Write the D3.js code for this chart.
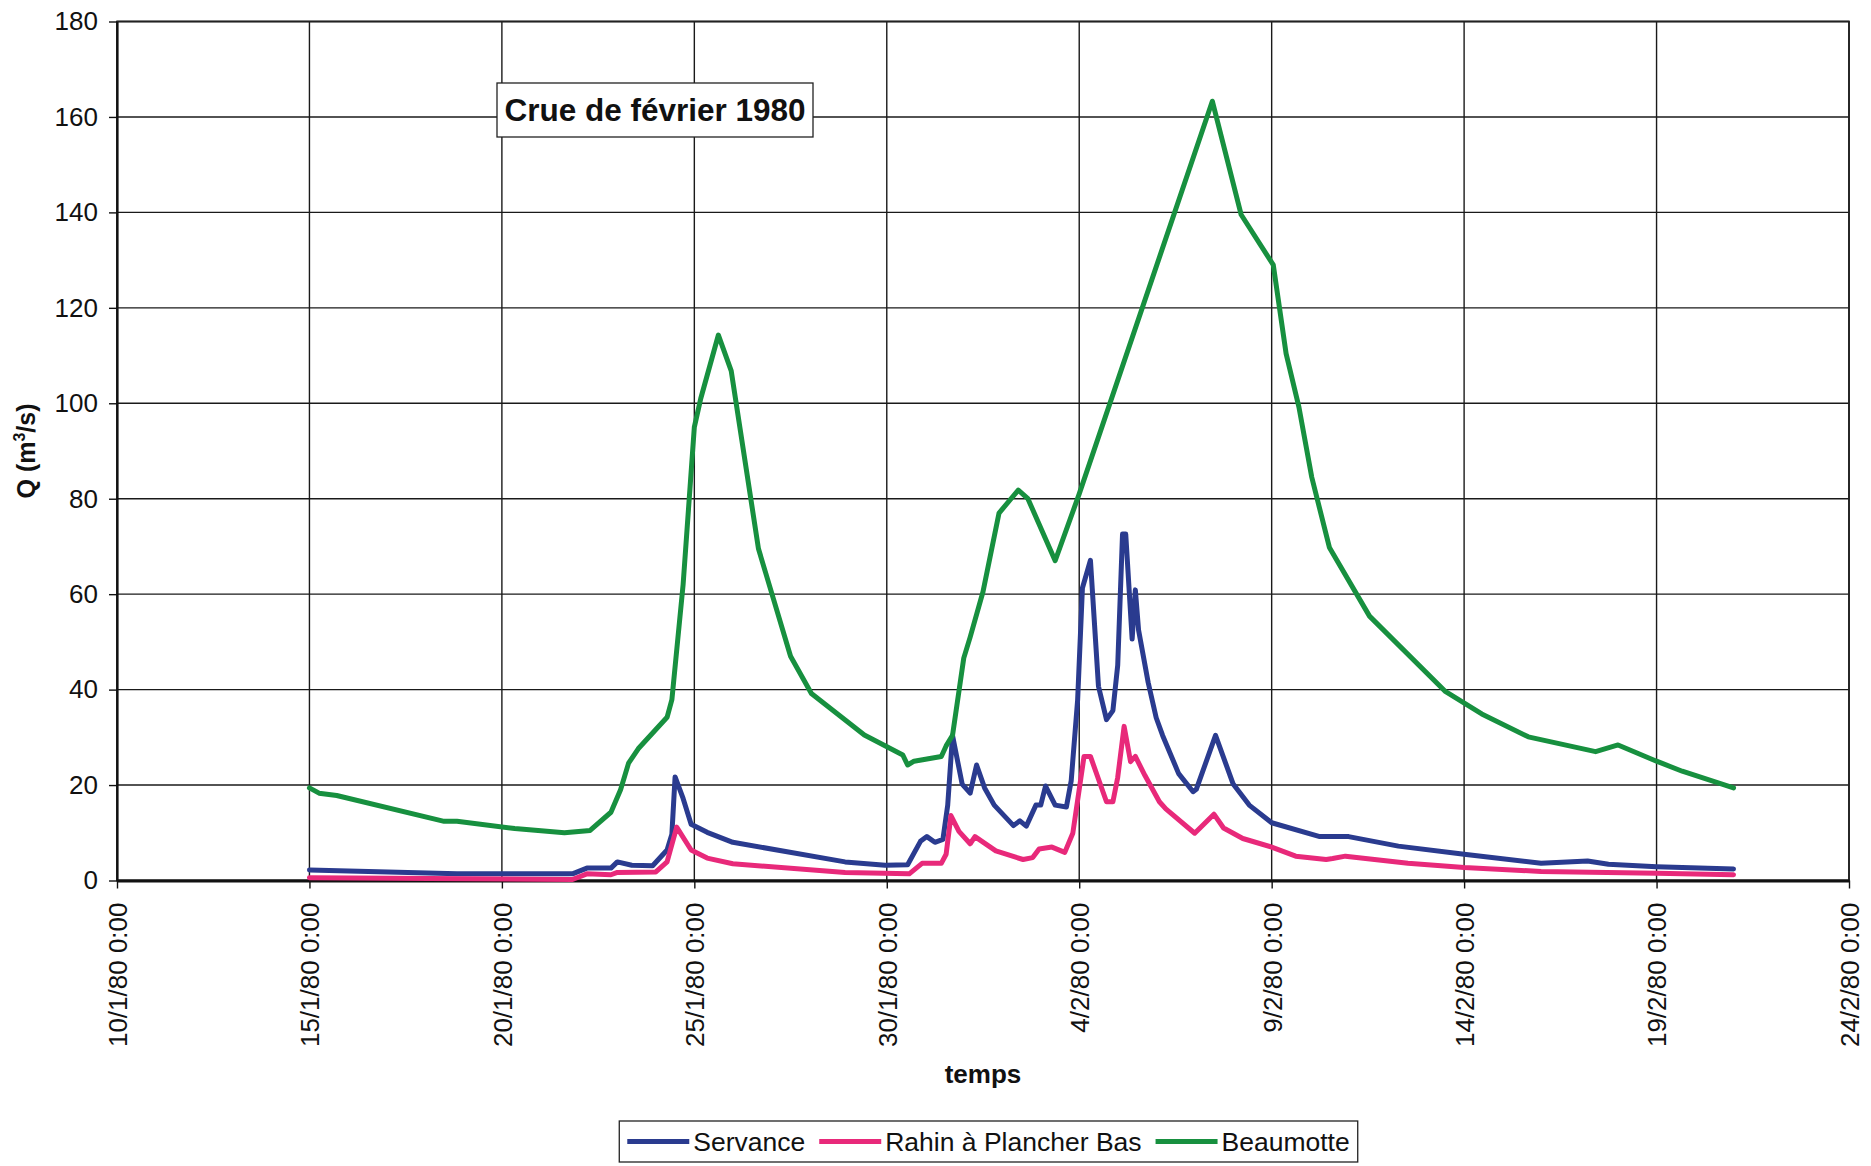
<!DOCTYPE html>
<html>
<head>
<meta charset="utf-8">
<script src="https://cdn.jsdelivr.net/npm/d3@7/dist/d3.min.js"></script>
<style>
  body { margin: 0; background: #fff; }
  svg { display: block; font-family: "Liberation Sans", Arial, sans-serif; }
</style>
</head>
<body>
<svg id="chart" width="1871" height="1166"></svg>
<script>
// ---- data ----
const xTickDates = ["1980-01-10 00:00", "1980-01-15 00:00", "1980-01-20 00:00", "1980-01-25 00:00",
  "1980-01-30 00:00", "1980-02-04 00:00", "1980-02-09 00:00", "1980-02-14 00:00",
  "1980-02-19 00:00", "1980-02-24 00:00"];
const yTicks = [0, 20, 40, 60, 80, 100, 120, 140, 160, 180];

const seriesNames = ["Servance", "Rahin à Plancher Bas", "Beaumotte"];
const seriesColors = ["#2a3b8f", "#e8297a", "#17903f"];

const servanceTimes = ["1980-01-15 00:00", "1980-01-18 20:00", "1980-01-21 20:00", "1980-01-22 05:00",
  "1980-01-22 20:00", "1980-01-23 00:00", "1980-01-23 09:00", "1980-01-23 22:00", "1980-01-24 07:00",
  "1980-01-24 10:00", "1980-01-24 12:00", "1980-01-24 17:00", "1980-01-24 22:00", "1980-01-25 08:00",
  "1980-01-26 00:00", "1980-01-28 22:00", "1980-01-29 23:00", "1980-01-30 13:00", "1980-01-30 21:00",
  "1980-01-31 01:00", "1980-01-31 06:00", "1980-01-31 11:00", "1980-01-31 14:00", "1980-01-31 17:00",
  "1980-01-31 23:00", "1980-02-01 04:00", "1980-02-01 08:00", "1980-02-01 13:00", "1980-02-01 19:00",
  "1980-02-02 07:00", "1980-02-02 11:00", "1980-02-02 15:00", "1980-02-02 21:00", "1980-02-03 00:00",
  "1980-02-03 03:00", "1980-02-03 09:00", "1980-02-03 16:00", "1980-02-03 19:00", "1980-02-03 23:00",
  "1980-02-04 02:00", "1980-02-04 07:00", "1980-02-04 12:00", "1980-02-04 17:00", "1980-02-04 21:00",
  "1980-02-05 00:00", "1980-02-05 03:00", "1980-02-05 05:00", "1980-02-05 09:00", "1980-02-05 11:00",
  "1980-02-05 13:00", "1980-02-05 19:00", "1980-02-06 00:00", "1980-02-06 04:00", "1980-02-06 14:00",
  "1980-02-06 23:00", "1980-02-07 01:00", "1980-02-07 13:00", "1980-02-08 00:00", "1980-02-08 10:00",
  "1980-02-09 00:00", "1980-02-10 06:00", "1980-02-11 00:00", "1980-02-12 07:00", "1980-02-14 00:00",
  "1980-02-16 00:00", "1980-02-17 05:00", "1980-02-17 18:00", "1980-02-19 00:00", "1980-02-21 00:00"];
const servanceQ = [2.2, 1.4, 1.4, 2.6,
  2.6, 3.9, 3.2, 3.1, 6.4,
  9.7, 21.7, 17.2, 11.8, 10.1,
  8.0, 3.9, 3.2, 3.3, 8.2,
  9.2, 8.0, 8.6, 15.8, 30.4,
  20.2, 18.3, 24.2, 19.4, 15.8,
  11.5, 12.5, 11.4, 15.8, 15.8,
  19.8, 15.8, 15.4, 20.9, 37.8,
  61.3, 67.1, 40.7, 33.7, 35.6,
  45.1, 72.6, 72.6, 50.6, 60.9,
  52.5, 41.5, 34.1, 30.4, 22.4,
  18.6, 19.1, 30.4, 20.2, 15.8,
  12.1, 9.2, 9.2, 7.2, 5.5,
  3.6, 4.1, 3.4, 2.9, 2.4];

const rahinTimes = ["1980-01-15 00:00", "1980-01-21 20:00", "1980-01-22 05:00", "1980-01-22 20:00",
  "1980-01-23 00:00", "1980-01-24 00:00", "1980-01-24 07:00", "1980-01-24 13:00", "1980-01-24 22:00",
  "1980-01-25 08:00", "1980-01-26 00:00", "1980-01-28 22:00", "1980-01-30 14:00", "1980-01-30 22:00",
  "1980-01-31 10:00", "1980-01-31 13:00", "1980-01-31 16:00", "1980-01-31 21:00", "1980-02-01 04:00",
  "1980-02-01 07:00", "1980-02-01 20:00", "1980-02-02 13:00", "1980-02-02 19:00", "1980-02-02 23:00",
  "1980-02-03 07:00", "1980-02-03 15:00", "1980-02-03 20:00", "1980-02-04 03:00", "1980-02-04 07:00",
  "1980-02-04 17:00", "1980-02-04 21:00", "1980-02-05 00:00", "1980-02-05 04:00", "1980-02-05 08:00",
  "1980-02-05 11:00", "1980-02-05 17:00", "1980-02-06 02:00", "1980-02-06 06:00", "1980-02-07 00:00",
  "1980-02-07 12:00", "1980-02-07 18:00", "1980-02-08 06:00", "1980-02-09 00:00", "1980-02-09 15:00",
  "1980-02-10 10:00", "1980-02-10 14:00", "1980-02-10 22:00", "1980-02-12 13:00", "1980-02-14 00:00",
  "1980-02-16 00:00", "1980-02-19 00:00", "1980-02-21 00:00"];
const rahinQ = [0.6, 0.2, 1.4, 1.2,
  1.7, 1.8, 3.9, 11.2, 6.4,
  4.7, 3.5, 1.7, 1.4, 3.6,
  3.6, 5.5, 13.6, 10.3, 7.7,
  9.2, 6.2, 4.4, 4.8, 6.6,
  7.0, 5.9, 9.9, 26.0, 26.0,
  16.5, 16.5, 21.6, 32.3, 24.9,
  26.0, 22.0, 16.5, 15.0, 9.9,
  13.9, 11.0, 8.8, 7.0, 5.1,
  4.4, 4.6, 5.1, 3.6, 2.7,
  1.9, 1.5, 1.2];

const beaumotteTimes = ["1980-01-15 00:00", "1980-01-15 06:00", "1980-01-15 17:00", "1980-01-18 12:00",
  "1980-01-18 20:00", "1980-01-20 08:00", "1980-01-21 15:00", "1980-01-22 07:00", "1980-01-22 20:00",
  "1980-01-23 02:00", "1980-01-23 07:00", "1980-01-23 13:00", "1980-01-24 07:00", "1980-01-24 10:00",
  "1980-01-24 17:00", "1980-01-25 00:00", "1980-01-25 04:00", "1980-01-25 15:00", "1980-01-25 23:00",
  "1980-01-26 16:00", "1980-01-27 12:00", "1980-01-28 01:00", "1980-01-29 10:00", "1980-01-30 10:00",
  "1980-01-30 13:00", "1980-01-30 17:00", "1980-01-31 10:00", "1980-01-31 13:00", "1980-01-31 17:00",
  "1980-02-01 00:00", "1980-02-01 04:00", "1980-02-01 12:00", "1980-02-01 22:00", "1980-02-02 10:00",
  "1980-02-02 16:00", "1980-02-03 09:00", "1980-02-04 00:00", "1980-02-07 11:00", "1980-02-08 05:00",
  "1980-02-09 01:00", "1980-02-09 09:00", "1980-02-09 17:00", "1980-02-10 01:00", "1980-02-10 12:00",
  "1980-02-11 13:00", "1980-02-13 12:00", "1980-02-14 11:00", "1980-02-15 16:00", "1980-02-17 10:00",
  "1980-02-18 00:00", "1980-02-19 00:00", "1980-02-19 16:00", "1980-02-21 00:00"];
const beaumotteQ = [19.4, 18.3, 17.8, 12.4,
  12.4, 10.9, 10.0, 10.5, 14.3,
  19.0, 24.6, 27.6, 34.2, 37.9,
  62.0, 95.0, 101.0, 114.3, 106.8,
  69.5, 47.0, 39.2, 30.5, 26.3,
  24.2, 25.0, 26.0, 28.2, 30.4,
  46.6, 51.0, 60.5, 77.0, 81.8,
  80.0, 67.0, 81.0, 163.3, 139.5,
  129.0, 110.4, 99.2, 84.5, 69.8,
  55.4, 39.7, 34.9, 30.1, 27.0,
  28.4, 25.0, 22.9, 19.4];

// ---- setup ----
const parseTime = d3.timeParse("%Y-%m-%d %H:%M");
const fmtTick = d3.timeFormat("%-d/%-m/%y %-H:%M");

const svg = d3.select("svg#chart");
const margin = { top: 21.5, right: 22, bottom: 285.5, left: 117 };
const width = +svg.attr("width");
const height = +svg.attr("height");
const plotW = width - margin.left - margin.right;
const plotH = height - margin.top - margin.bottom;

const xTicks = xTickDates.map(parseTime);
const x = d3.scaleTime().domain([xTicks[0], xTicks[xTicks.length - 1]]).range([0, plotW]);
const y = d3.scaleLinear().domain([0, 180]).range([plotH, 0]);

const g = svg.append("g").attr("transform", `translate(${margin.left},${margin.top})`);

// gridlines
g.append("g").selectAll("line.h").data(yTicks).join("line")
  .attr("x1", 0).attr("x2", plotW)
  .attr("y1", d => y(d)).attr("y2", d => y(d))
  .style("stroke", "#1a1a1a").style("stroke-width", 1.4);
g.append("g").selectAll("line.v").data(xTicks).join("line")
  .attr("x1", d => x(d)).attr("x2", d => x(d))
  .attr("y1", 0).attr("y2", plotH)
  .style("stroke", "#1a1a1a").style("stroke-width", 1.4);

// plot frame
g.append("rect").attr("width", plotW).attr("height", plotH)
  .attr("fill", "none").style("stroke", "#222").style("stroke-width", 1.8);

// axes
const yAxis = g.append("g").call(d3.axisLeft(y).tickValues(yTicks).tickSize(8).tickPadding(11).tickSizeOuter(0));
yAxis.select(".domain").style("stroke", "#111").style("stroke-width", 2.2);
yAxis.selectAll(".tick line").style("stroke", "#111").style("stroke-width", 1.4);
yAxis.selectAll("text").style("font-size", "26px").style("fill", "#111")
  .style("font-family", "'Liberation Sans', Arial, sans-serif");

const xAxis = g.append("g").attr("transform", `translate(0,${plotH})`)
  .call(d3.axisBottom(x).tickValues(xTicks).tickFormat(fmtTick).tickSize(8).tickSizeOuter(0));
xAxis.select(".domain").style("stroke", "#111").style("stroke-width", 3);
xAxis.selectAll(".tick line").style("stroke", "#111").style("stroke-width", 1.4);
xAxis.selectAll("text")
  .attr("transform", "rotate(-90)")
  .attr("text-anchor", "end")
  .attr("x", -22).attr("y", 0).attr("dy", "0.36em")
  .style("font-size", "26px").style("fill", "#111")
  .style("font-family", "'Liberation Sans', Arial, sans-serif");

// series
const series = [
  { name: seriesNames[0], color: seriesColors[0], times: servanceTimes, q: servanceQ },
  { name: seriesNames[1], color: seriesColors[1], times: rahinTimes, q: rahinQ },
  { name: seriesNames[2], color: seriesColors[2], times: beaumotteTimes, q: beaumotteQ }
];
const line = d3.line().x(d => x(d.t)).y(d => y(d.v));

series.forEach(function (s) {
  const pts = s.times.map((t, i) => ({ t: parseTime(t), v: s.q[i] }));
  g.append("path")
    .datum(pts)
    .attr("d", line)
    .attr("fill", "none")
    .style("stroke", s.color)
    .style("stroke-width", 5)
    .style("stroke-linejoin", "round")
    .style("stroke-linecap", "round");
});

// title box
const titleG = svg.append("g");
titleG.append("rect")
  .attr("x", 497).attr("y", 83).attr("width", 316).attr("height", 54)
  .attr("fill", "#fff").style("stroke", "#222").style("stroke-width", 1.3);
titleG.append("text")
  .attr("x", 655).attr("y", 121)
  .attr("text-anchor", "middle")
  .style("font-size", "31.5px").style("font-weight", "bold").style("fill", "#111")
  .text("Crue de février 1980");

// axis titles
const yTitle = svg.append("text")
  .attr("transform", `translate(35,${margin.top + plotH / 2}) rotate(-90)`)
  .attr("text-anchor", "middle")
  .style("font-size", "25px").style("font-weight", "bold").style("fill", "#111");
yTitle.append("tspan").text("Q (m");
yTitle.append("tspan").attr("dy", -10).style("font-size", "16px").text("3");
yTitle.append("tspan").attr("dy", 10).text("/s)");

svg.append("text")
  .attr("x", margin.left + plotW / 2).attr("y", 1083)
  .attr("text-anchor", "middle")
  .style("font-size", "26px").style("font-weight", "bold").style("fill", "#111")
  .text("temps");

// legend
const legend = svg.append("g");
const legendBox = legend.append("rect")
  .attr("y", 1121).attr("height", 41)
  .attr("fill", "#fff").style("stroke", "#222").style("stroke-width", 1.3);
let lx = 0;
const items = legend.append("g");
series.forEach(function (s) {
  items.append("line")
    .attr("x1", lx).attr("x2", lx + 62)
    .attr("y1", 1141.5).attr("y2", 1141.5)
    .style("stroke", s.color).style("stroke-width", 5);
  const t = items.append("text")
    .attr("x", lx + 66).attr("y", 1151)
    .style("font-size", "26.5px").style("fill", "#111")
    .text(s.name);
  lx += 66 + t.node().getComputedTextLength() + 14;
});
const itemsW = lx - 14;
const legendCx = 988.5;
items.attr("transform", `translate(${legendCx - itemsW / 2},0)`);
legendBox.attr("x", legendCx - itemsW / 2 - 8).attr("width", itemsW + 16);
</script>
</body>
</html>
